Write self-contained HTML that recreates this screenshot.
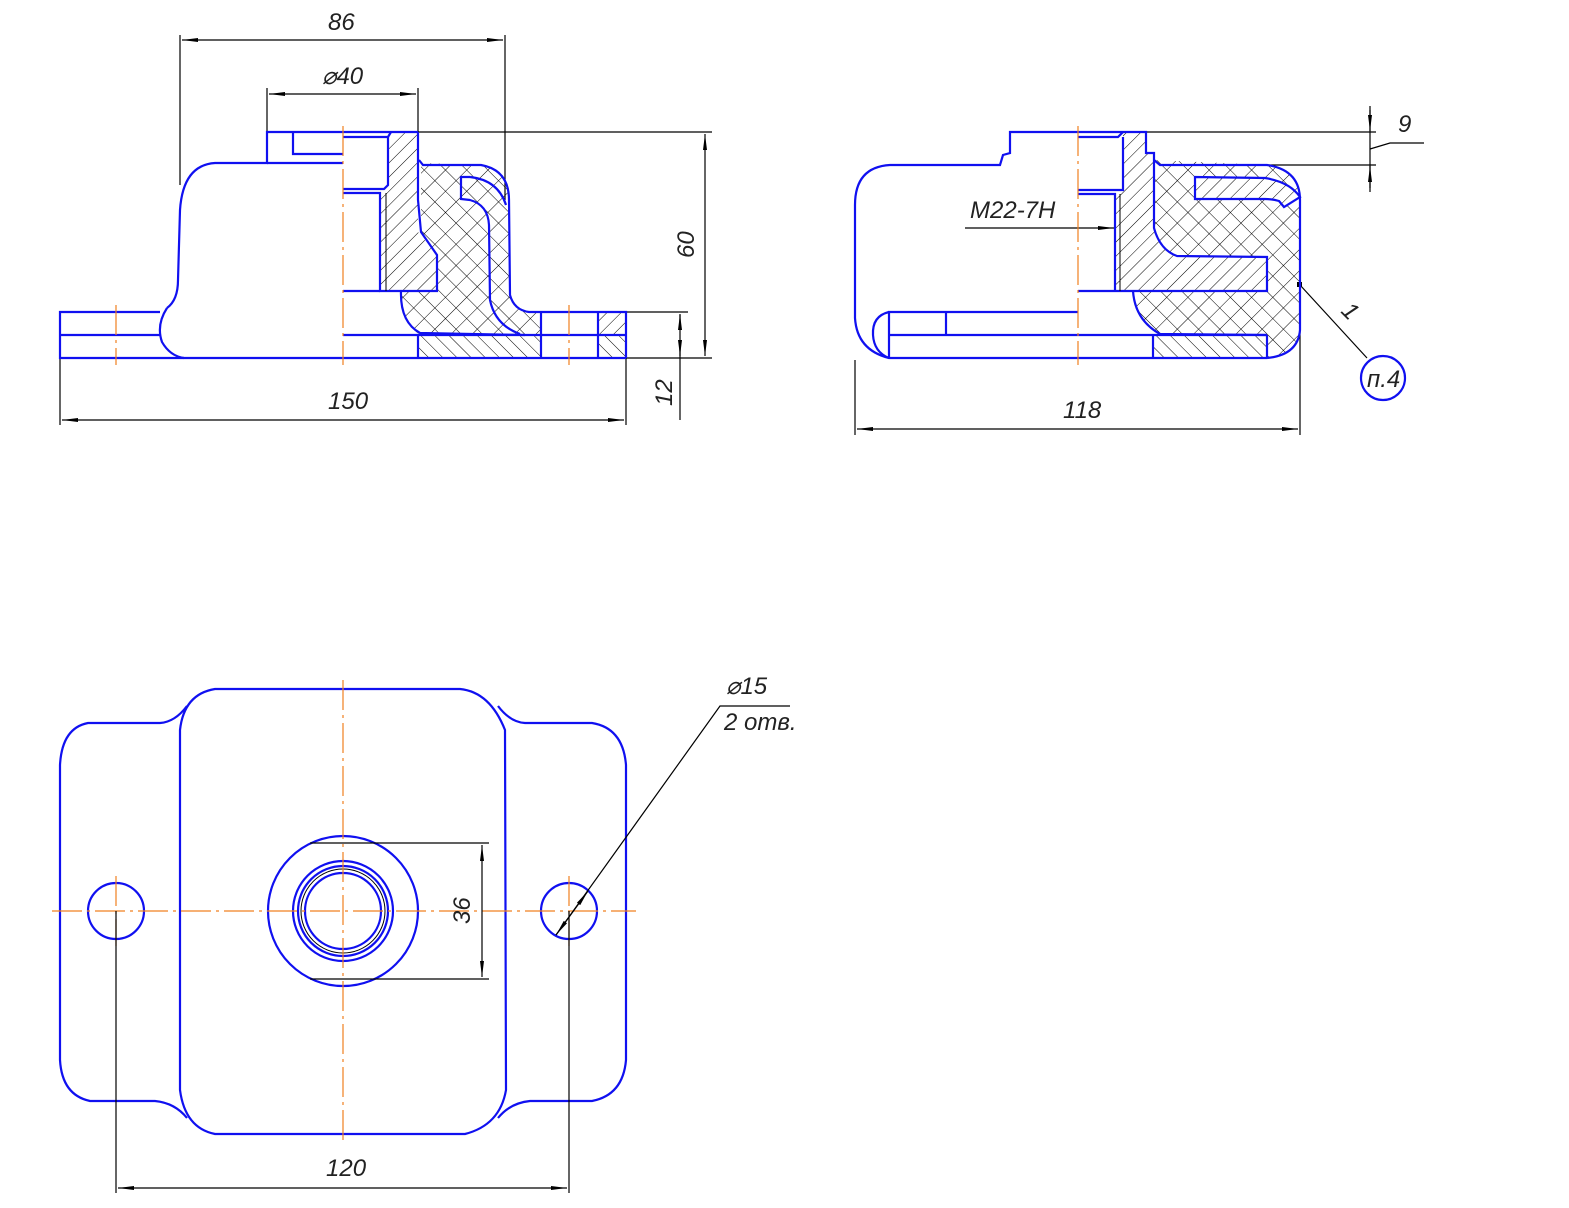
<!DOCTYPE html>
<html><head><meta charset="utf-8"><style>
html,body{margin:0;padding:0;background:#fff}
svg{display:block}
text{font-family:"Liberation Sans",sans-serif;font-style:italic;fill:#222;font-size:24px}
</style></head><body>
<svg width="1569" height="1208" viewBox="0 0 1569 1208" xmlns="http://www.w3.org/2000/svg">
<defs>
<pattern id="h1" patternUnits="userSpaceOnUse" width="10" height="10" patternTransform="rotate(45)"><line x1="0" y1="0" x2="0" y2="10" stroke="#000" stroke-width="1"/></pattern>
<pattern id="h2" patternUnits="userSpaceOnUse" width="10" height="10" patternTransform="rotate(-45)"><line x1="0" y1="0" x2="0" y2="10" stroke="#000" stroke-width="1"/></pattern>
<pattern id="hx" patternUnits="userSpaceOnUse" width="15" height="15" patternTransform="rotate(45)"><line x1="0" y1="0" x2="0" y2="15" stroke="#000" stroke-width="1"/><line x1="0" y1="0" x2="15" y2="0" stroke="#000" stroke-width="1"/></pattern>
<marker id="a" viewBox="0 0 16 6" refX="16" refY="3" markerWidth="16" markerHeight="6" markerUnits="userSpaceOnUse" orient="auto-start-reverse"><path d="M0,1 L16,3 L0,5 Z" fill="#000"/></marker>
</defs>

<!-- ================= FRONT VIEW ================= -->
<g fill="none" stroke="#000" stroke-width="1.2">
<line x1="180" y1="35" x2="180" y2="185"/><line x1="505" y1="35" x2="505" y2="200"/>
<line x1="182" y1="40" x2="503" y2="40" marker-start="url(#a)" marker-end="url(#a)"/>
<line x1="267" y1="88" x2="267" y2="132"/><line x1="418" y1="88" x2="418" y2="132"/>
<line x1="269" y1="94" x2="416" y2="94" marker-start="url(#a)" marker-end="url(#a)"/>
<line x1="418" y1="132" x2="712" y2="132"/><line x1="541" y1="358" x2="712" y2="358"/>
<line x1="705" y1="134" x2="705" y2="356" marker-start="url(#a)" marker-end="url(#a)"/>
<line x1="626" y1="312" x2="688" y2="312"/>
<line x1="680" y1="315" x2="680" y2="420"/>
<line x1="680" y1="330" x2="680" y2="314" marker-end="url(#a)"/>
<line x1="680" y1="340" x2="680" y2="356" marker-end="url(#a)"/>
<line x1="60" y1="358" x2="60" y2="425"/><line x1="626" y1="358" x2="626" y2="425"/>
<line x1="62" y1="420" x2="624" y2="420" marker-start="url(#a)" marker-end="url(#a)"/>
</g>
<text x="328" y="30">86</text>
<text x="322" y="84">⌀40</text>
<text x="328" y="409">150</text>
<text transform="translate(694,258) rotate(-90)">60</text>
<text transform="translate(672,406) rotate(-90)">12</text>

<path d="M421,163 L481,165 Q509,170 509,200 L510,295 Q514,310 529,312 L541,312 L541,335 L420,335 Q402,322 401,291 L437,291 L437,255 L421,232 Z" fill="url(#hx)"/>
<path d="M391,132 L418,132 L418,232 L437,255 L437,291 L380,291 L380,193 L384,189 L388,189 L388,137 Z" fill="url(#h1)"/>
<rect x="418" y="335" width="123" height="23" fill="url(#h2)"/>
<rect x="598" y="312" width="28" height="23" fill="url(#h1)"/>
<rect x="598" y="335" width="28" height="23" fill="url(#h2)"/>

<g fill="none" stroke="#1010f0" stroke-width="2.2">
<path d="M167,308 Q178,300 178,280 L180,210 Q183,165 215,163 L267,163 L267,132 L418,132"/>
<path d="M343,154 L293,154 L293,132"/>
<path d="M267,163 L343,163"/>
<path d="M167,308 Q156,325 162,342 Q170,356 184,358 L626,358"/>
<path d="M160,312 L60,312 L60,358 L184,358"/>
<line x1="60" y1="335" x2="160" y2="335"/>
<line x1="343" y1="335" x2="626" y2="335"/>
<path d="M541,312 L626,312 L626,358"/>
<line x1="541" y1="312" x2="541" y2="358"/>
<line x1="598" y1="312" x2="598" y2="358"/>
<line x1="418" y1="335" x2="418" y2="358"/>
<path d="M391,132 L388,137 L343,137"/>
<path d="M343,189 L384,189 L388,185 L388,137"/>
<path d="M343,193 L380,193 L380,291 L437,291 L437,255 L421,232 L418,200 L418,132"/>
<line x1="343" y1="291" x2="380" y2="291"/>
<path d="M419,160 L423,165 L481,165 Q509,170 509,200 L510,295 Q514,310 529,312 L541,312"/>
<path d="M401,291 Q400,322 420,333 L525,335"/>
<path d="M470,177 L461,177 L461,199 L470,200 Q488,205 489,225 L490,300 Q495,325 520,334"/>
<path d="M470,177 Q498,180 506,205"/>
</g>
<line x1="386" y1="193" x2="386" y2="291" stroke="#000" stroke-width="1"/>
<g stroke="#f08020" stroke-width="1.2" stroke-dasharray="30,5,3,5">
<line x1="343" y1="126" x2="343" y2="365"/>
<line x1="116" y1="305" x2="116" y2="365"/>
<line x1="569" y1="305" x2="569" y2="365"/>
</g>

<!-- ================= SIDE VIEW ================= -->
<g fill="none" stroke="#000" stroke-width="1.2">
<line x1="1146" y1="132" x2="1376" y2="132"/><line x1="1267" y1="165" x2="1376" y2="165"/>
<line x1="1370" y1="106" x2="1370" y2="192"/>
<line x1="1370" y1="110" x2="1370" y2="131" marker-end="url(#a)"/>
<line x1="1370" y1="188" x2="1370" y2="166" marker-end="url(#a)"/>
<path d="M1370,149 L1390,143 L1424,143"/>
<line x1="855" y1="360" x2="855" y2="435"/><line x1="1300" y1="285" x2="1300" y2="435"/>
<line x1="857" y1="429" x2="1298" y2="429" marker-start="url(#a)" marker-end="url(#a)"/>
<line x1="965" y1="228" x2="1114" y2="228" marker-end="url(#a)"/>
<line x1="1300" y1="285" x2="1367" y2="358"/>
</g>
<rect x="1297" y="282" width="5" height="5" fill="#000"/>
<text x="1398" y="132">9</text>
<text x="1063" y="418">118</text>
<text x="970" y="218">M22-7H</text>
<text transform="translate(1340,312) rotate(45)" font-size="16">1</text>
<circle cx="1383" cy="378" r="22" fill="none" stroke="#1010f0" stroke-width="2.2"/>
<text x="1367" y="387" font-size="20">п.4</text>

<path d="M1153,160 L1267,165 Q1300,170 1300,200 L1300,330 Q1298,355 1267,358 L1267,335 L1160,334 Q1135,320 1133,291 L1153,291 Z" fill="url(#hx)"/>
<path d="M1123,132 L1146,132 L1146,153 L1154,153 L1154,228 Q1160,250 1177,256 L1267,257 L1267,291 L1115,291 L1115,194 L1123,190 Z" fill="#fff"/>
<path d="M1123,132 L1146,132 L1146,153 L1154,153 L1154,228 Q1160,250 1177,256 L1267,257 L1267,291 L1115,291 L1115,194 L1123,190 Z" fill="url(#h1)"/>
<path d="M1195,177 L1265,178 Q1290,182 1300,197 L1284,207 L1279,201 Q1272,199 1265,199 L1195,199 Z" fill="#fff"/>
<path d="M1195,177 L1265,178 Q1290,182 1300,197 L1284,207 L1279,201 Q1272,199 1265,199 L1195,199 Z" fill="url(#h1)"/>
<rect x="1153" y="335" width="114" height="23" fill="#fff"/>
<rect x="1153" y="335" width="114" height="23" fill="url(#h2)"/>

<g fill="none" stroke="#1010f0" stroke-width="2.2">
<path d="M1078,132 L1146,132 L1146,153 L1154,153 L1154,228 Q1160,250 1177,256 L1267,257 L1267,291 L1078,291"/>
<path d="M1078,132 L1010,132 L1010,153 L1003,155 L1000,165 L890,165 Q855,167 855,205 L855,318 Q857,350 889,358 L1267,358"/>
<path d="M1123,132 L1118,137 L1078,137"/>
<path d="M1078,190 L1123,190 L1123,137"/>
<path d="M1078,194 L1115,194 L1115,291"/>
<path d="M1154,160 L1160,165 L1267,165 Q1300,170 1300,200 L1300,330 Q1298,355 1267,358"/>
<path d="M1195,177 L1265,178 Q1290,182 1300,197 L1284,207 L1279,201 Q1272,199 1265,199 L1195,199 Z"/>
<path d="M1133,291 Q1135,320 1160,334 L1267,335"/>
<line x1="1153" y1="335" x2="1153" y2="358"/>
<line x1="1267" y1="335" x2="1267" y2="358"/>
<path d="M1078,312 L889,312 L889,358"/>
<line x1="889" y1="335" x2="1267" y2="335"/>
<line x1="946" y1="312" x2="946" y2="335"/>
<path d="M889,312 Q872,316 873,335 Q874,352 889,358"/>
</g>
<line x1="1120" y1="194" x2="1120" y2="291" stroke="#000" stroke-width="1"/>
<line x1="1078" y1="126" x2="1078" y2="365" stroke="#f08020" stroke-width="1.2" stroke-dasharray="30,5,3,5"/>

<!-- ================= PLAN VIEW ================= -->
<g fill="none" stroke="#1010f0" stroke-width="2.2">
<path d="M215,689 L460,689 Q490,692 505,730 L506,1090 Q500,1125 465,1134 L215,1134 Q185,1128 180,1090 L180,730 Q184,694 215,689 Z"/>
<path d="M187,706 Q175,722 160,723 L88,723 Q62,728 60,765 L60,1060 Q62,1095 90,1101 L155,1101 Q175,1103 187,1118"/>
<path d="M498,706 Q510,722 525,723 L592,723 Q623,728 626,765 L626,1060 Q623,1095 592,1101 L530,1101 Q510,1103 498,1118"/>
<circle cx="343" cy="911" r="75"/>
<circle cx="343" cy="911" r="50"/>
<circle cx="343" cy="911" r="45"/>
<circle cx="343" cy="911" r="38"/>
<circle cx="116" cy="911" r="28"/>
<circle cx="569" cy="911" r="28"/>
</g>
<circle cx="343" cy="911" r="42" fill="none" stroke="#000" stroke-width="1"/>
<g stroke="#f08020" stroke-width="1.2" stroke-dasharray="30,5,3,5">
<line x1="52" y1="911" x2="636" y2="911"/>
<line x1="343" y1="680" x2="343" y2="1140"/>
<line x1="116" y1="876" x2="116" y2="946"/>
<line x1="569" y1="876" x2="569" y2="946"/>
</g>
<g fill="none" stroke="#000" stroke-width="1.2">
<line x1="310" y1="843" x2="489" y2="843"/><line x1="310" y1="979" x2="489" y2="979"/>
<line x1="482" y1="845" x2="482" y2="977" marker-start="url(#a)" marker-end="url(#a)"/>
<line x1="116" y1="911" x2="116" y2="1193"/><line x1="569" y1="911" x2="569" y2="1193"/>
<line x1="118" y1="1188" x2="567" y2="1188" marker-start="url(#a)" marker-end="url(#a)"/>
<path d="M790,706 L720,706 L556,935"/>
<line x1="572" y1="913" x2="556" y2="935" marker-end="url(#a)"/>
<line x1="572" y1="913" x2="588" y2="891" marker-end="url(#a)"/>
</g>
<text transform="translate(470,924) rotate(-90)">36</text>
<text x="326" y="1176">120</text>
<text x="726" y="694">⌀15</text>
<text x="724" y="730">2 отв.</text>
</svg>
</body></html>
